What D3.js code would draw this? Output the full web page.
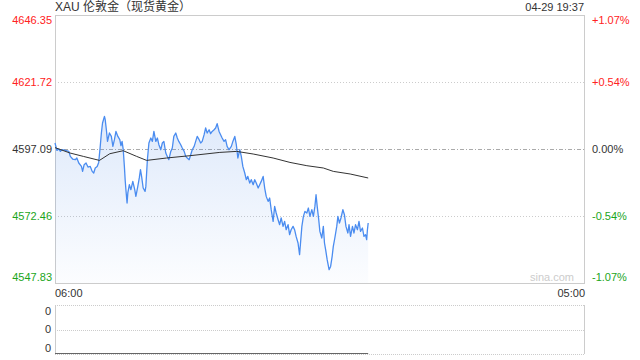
<!DOCTYPE html>
<html>
<head>
<meta charset="utf-8">
<script src="https://cdn.jsdelivr.net/npm/d3@7"></script>
<style>
  body { margin: 0; background: #fff; }
  svg { display: block; font-family: Arial, "Liberation Sans", "Noto Sans CJK SC", sans-serif; }
</style>
</head>
<body>
<div id="chart"></div>
<script>
// chart values
const title = "XAU 伦敦金（现货黄金）";
const stamp = "04-29 19:37";
const prevClose = 4597.09;
const priceTicks = [4646.35, 4621.72, 4597.09, 4572.46, 4547.83];
const pctTicks = ["+1.07%", "+0.54%", "0.00%", "-0.54%", "-1.07%"];
const timeLabels = ["06:00", "05:00"];
const sessionMinutes = [0, 1380]; // 06:00 -> 05:00 next day

// minutes after 06:00
const priceMinutes = [0,5,10,14,18,27,36,40,46,53,57,62,69,72,76,81,86,92,97,101,105,110,114,118,121,124,129,131,134,137,142,147,151,155,159,164,169,172,175,178,181,183,185,188,190,194,198,203,208,211,216,220,223,226,230,235,237,241,245,250,254,258,263,267,271,276,280,284,289,293,297,302,306,310,315,319,323,328,332,337,341,345,350,354,358,363,367,371,376,380,384,389,393,397,402,406,410,415,419,423,428,432,436,441,445,449,454,460,464,469,473,477,482,486,490,495,499,503,508,512,517,521,525,530,534,538,543,547,551,556,560,564,569,573,577,582,586,590,595,599,603,608,612,616,621,625,629,634,638,644,648,652,657,661,665,670,674,678,681,684,688,691,696,700,703,706,710,715,719,723,726,730,735,738,742,746,751,755,759,764,767,771,776,780,784,789,793,797,802,806,810,813,815,817];
const prices = [4599.30,4596.58,4597.09,4596.21,4596.83,4596.58,4596.21,4594.37,4593.41,4593.16,4593.78,4591.94,4590.69,4588.86,4591.32,4591.94,4590.47,4590.69,4588.86,4588.27,4590.11,4590.69,4592.16,4598.05,4602.97,4606.65,4609.07,4607.86,4604.18,4599.88,4602.97,4601.72,4598.05,4600.51,4603.56,4601.72,4600.51,4598.30,4599.88,4596.83,4590.69,4585.80,4582.13,4577.24,4580.92,4583.97,4582.13,4585.18,4582.13,4579.67,4583.34,4586.54,4589.48,4586.91,4582.75,4581.50,4583.34,4593.16,4599.30,4601.13,4599.88,4603.56,4599.88,4601.13,4598.67,4596.83,4599.30,4599.88,4595.62,4594.37,4593.16,4596.21,4597.46,4601.72,4602.97,4601.13,4599.88,4598.67,4597.46,4596.21,4594.37,4593.78,4593.16,4594.99,4596.83,4598.05,4599.88,4601.72,4600.51,4599.30,4599.88,4602.35,4604.81,4602.97,4604.18,4602.71,4603.56,4604.18,4604.81,4606.39,4603.56,4602.35,4601.13,4599.88,4600.51,4598.05,4596.83,4598.05,4599.88,4601.72,4598.67,4593.78,4596.83,4594.37,4590.69,4588.27,4585.80,4587.02,4584.59,4585.80,4583.97,4585.80,4584.59,4582.75,4583.97,4585.18,4587.02,4582.75,4579.67,4577.83,4579.08,4574.78,4570.48,4575.99,4573.56,4571.10,4569.26,4571.73,4568.64,4570.48,4567.42,4569.26,4565.59,4567.42,4568.64,4567.42,4564.96,4562.54,4558.23,4568.64,4572.31,4574.15,4573.56,4575.40,4572.31,4574.78,4572.31,4575.99,4580.29,4575.99,4571.10,4566.80,4564.37,4568.64,4562.54,4560.07,4556.40,4552.72,4553.93,4557.61,4561.29,4564.37,4568.64,4572.31,4569.89,4571.73,4574.78,4572.94,4568.64,4566.21,4569.26,4564.96,4568.64,4566.21,4569.26,4567.42,4570.48,4566.80,4568.05,4564.96,4565.59,4563.75,4567.42,4569.89];

// running average line
const avgMinutes = [0,39,74,116,143,178,213,239,291,352,430,474,517,569,613,657,700,726,770,817];
const avgPrices = [4597.6,4595.62,4594.37,4592.90,4595.36,4596.46,4594.37,4592.90,4593.78,4594.63,4595.84,4596.21,4595.25,4593.78,4592.16,4590.95,4590.11,4588.86,4587.90,4586.43];

// volume panel (all zero)
const volumeMinutes = [0, 817];
const volumes = [0, 0];
const volumeTicks = ["0", "0", "0"];

const W = 640, H = 360;
const plotLeft = 55, plotRight = 584, plotTop = 15, plotBottom = 283;
const volTop = 305, volBottom = 354;

const svg = d3.select("#chart").append("svg").attr("width", W).attr("height", H);

const x = d3.scaleLinear().domain(sessionMinutes).range([plotLeft, plotRight]);
const y = d3.scaleLinear().domain([priceTicks[4], priceTicks[0]]).range([plotBottom, plotTop]);
const yVol = d3.scaleLinear().domain([0, 1]).range([volBottom, volTop]);

const red = "#f22", green = "#1ba51b", dark = "#333";
const tickColor = v => v > prevClose ? red : (v < prevClose ? green : dark);

// gradient for area
const defs = svg.append("defs");
const grad = defs.append("linearGradient").attr("id", "fillGrad")
    .attr("gradientUnits", "userSpaceOnUse")
    .attr("x1", 0).attr("x2", 0).attr("y1", y(d3.max(prices))).attr("y2", plotBottom);
grad.append("stop").attr("offset", 0).attr("stop-color", "#5b93ea").attr("stop-opacity", 0.2);
grad.append("stop").attr("offset", 1).attr("stop-color", "#5b93ea").attr("stop-opacity", 0.02);

// title row
svg.append("text").attr("x", plotLeft).attr("y", 11).attr("font-size", 12).attr("fill", dark).text(title);
svg.append("text").attr("x", plotRight).attr("y", 11).attr("font-size", 11).attr("fill", dark)
    .attr("text-anchor", "end").text(stamp);

// inner grid lines
priceTicks.slice(1, 4).forEach(v => {
    svg.append("line")
        .attr("x1", plotLeft).attr("x2", plotRight)
        .attr("y1", Math.round(y(v)) + 0.5).attr("y2", Math.round(y(v)) + 0.5)
        .attr("stroke", v === prevClose ? "#aaa" : "#ccc")
        .attr("stroke-dasharray", v === prevClose ? "4,2,1,2" : "1,2");
});

// frame
svg.append("rect").attr("x", plotLeft + 0.5).attr("y", plotTop + 0.5)
    .attr("width", plotRight - plotLeft).attr("height", plotBottom - plotTop)
    .attr("fill", "none").attr("stroke", "#ccc");

// price labels
priceTicks.forEach((v, i) => {
    let ty = y(v);
    if (i === 0) ty += 5;
    if (i === priceTicks.length - 1) ty -= 6;
    svg.append("text").attr("x", plotLeft - 3).attr("y", ty).attr("dy", "0.35em")
        .attr("text-anchor", "end").attr("font-size", 11).attr("fill", tickColor(v))
        .text(v.toFixed(2));
    svg.append("text").attr("x", plotRight + 8).attr("y", ty).attr("dy", "0.35em")
        .attr("font-size", 11).attr("fill", tickColor(v)).text(pctTicks[i]);
});

// watermark
svg.append("text").attr("x", plotRight - 10).attr("y", 281).attr("text-anchor", "end")
    .attr("font-size", 11).attr("fill", "#ccc").text("sina.com");

// area + price line
const pts = d3.zip(priceMinutes, prices);
const area = d3.area().x(d => x(d[0])).y0(plotBottom).y1(d => y(d[1]));
svg.append("path").datum(pts).attr("d", area).attr("fill", "url(#fillGrad)");
const line = d3.line().x(d => x(d[0])).y(d => y(d[1]));
svg.append("path").datum(pts).attr("d", line)
    .attr("fill", "none").attr("stroke", "#4a8cf0").attr("stroke-width", 1.3)
    .attr("stroke-linejoin", "round");
svg.append("path").datum(d3.zip(avgMinutes, avgPrices)).attr("d", line)
    .attr("fill", "none").attr("stroke", "#333").attr("stroke-width", 1);

// time labels
svg.append("text").attr("x", plotLeft).attr("y", 297).attr("font-size", 11).attr("fill", dark).text(timeLabels[0]);
svg.append("text").attr("x", plotRight + 1).attr("y", 297).attr("font-size", 11).attr("fill", dark)
    .attr("text-anchor", "end").text(timeLabels[1]);

// volume panel
[volTop, (volTop + volBottom) / 2, volBottom].forEach(gy => {
    svg.append("line").attr("x1", plotLeft).attr("x2", plotRight)
        .attr("y1", Math.round(gy) + 0.5).attr("y2", Math.round(gy) + 0.5)
        .attr("stroke", "#ccc").attr("stroke-dasharray", "1,1");
});
[plotLeft, plotRight].forEach(gx => {
    svg.append("line").attr("x1", gx + 0.5).attr("x2", gx + 0.5)
        .attr("y1", volTop).attr("y2", volBottom).attr("stroke", "#ccc");
});
volumeTicks.forEach((t, i) => {
    const ty = [volTop + 6, (volTop + volBottom) / 2, volBottom - 6][i];
    svg.append("text").attr("x", plotLeft - 4).attr("y", ty).attr("dy", "0.35em")
        .attr("text-anchor", "end").attr("font-size", 11).attr("fill", dark).text(t);
});
svg.append("path").datum(d3.zip(volumeMinutes, volumes))
    .attr("d", d3.line().x(d => x(d[0])).y(d => Math.round(yVol(d[1])) - 0.5))
    .attr("fill", "none").attr("stroke", "#666").attr("stroke-width", 1);
</script>
</body>
</html>
